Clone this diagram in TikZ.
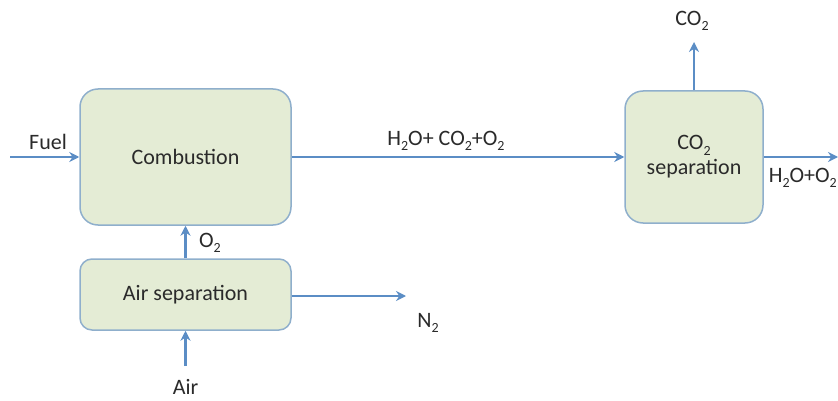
\documentclass[tikz,border=0pt]{standalone}
\usepackage{fontspec}
\setmainfont{Carlito}
\usetikzlibrary{arrows.meta}
\definecolor{boxfill}{HTML}{E4ECD5}
\definecolor{boxline}{HTML}{8FAFCC}
\definecolor{flowblue}{HTML}{5B8DC5}
\definecolor{labeltext}{HTML}{2A2A2A}
\newcommand{\lowsub}[1]{\raisebox{-0.5ex}{\fontsize{14}{14}\selectfont #1}}

\begin{document}
\begin{tikzpicture}[
    x=1pt, y=-1pt,
    font=\fontsize{22}{25}\selectfont,
    unit/.style={draw=boxline, line width=1.5pt, fill=boxfill, rounded corners=18pt, align=center, inner sep=0pt, text=labeltext},
    tag/.style={inner sep=0pt, text=labeltext},
    flow/.style={draw=flowblue, line width=2.2pt, -{Stealth[length=10pt,width=10pt]}}
]
\useasboundingbox (0,0) rectangle (838,401);
\clip (0,0) rectangle (838,401);

\node[unit, minimum width=211pt, minimum height=136pt] (comb) at (185.5,157) {Combustion};
\node[unit, rounded corners=12pt, minimum width=211pt, minimum height=71pt] (airsep) at (185.5,294.5) {Air separation};
\node[unit, minimum width=138pt, minimum height=132pt] (co2sep) at (694,157) {CO\lowsub{2}\\separation};

\coordinate (fuelin) at (10,157);
\coordinate (co2out) at (694,42);
\coordinate (restout) at (838,157);
\coordinate (n2out) at (406,296);
\coordinate (airin) at (185.5,366);

\node[tag] (fuellbl) at (48,142) {Fuel};
\node[tag] (fluelbl) at (446,141) {H\lowsub{2}O+ CO\lowsub{2}+O\lowsub{2}};
\node[tag] (co2lbl) at (692,21) {CO\lowsub{2}};
\node[tag, anchor=east] (restlbl) at (837,178) {H\lowsub{2}O+O\lowsub{2}};
\node[tag] (o2lbl) at (210,243) {O\lowsub{2}};
\node[tag] (n2lbl) at (428,323) {N\lowsub{2}};
\node[tag, anchor=south] (airlbl) at (185.5,395) {Air};

\draw[flow] (fuelin) -- (comb);
\draw[flow] (comb) -- (co2sep);
\draw[flow] (co2sep) -- (co2out);
\draw[flow] (co2sep) -- (restout);
\draw[flow] (airsep) -- (comb);
\draw[flow] (airsep.east |- n2out) -- (n2out);
\draw[flow] (airin) -- (airsep);
\end{tikzpicture}
\end{document}
